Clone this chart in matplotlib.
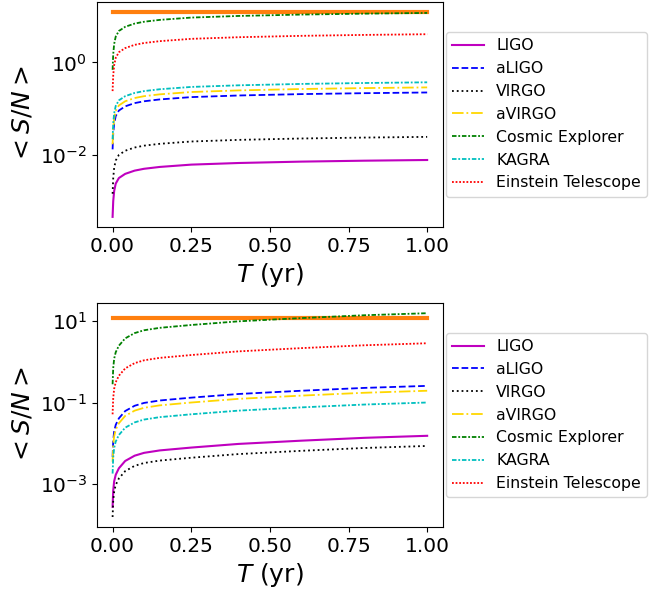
import matplotlib
matplotlib.use("Agg")
import matplotlib.pyplot as plt
import numpy as np

# observation time (yr)
T = [0, 0.002, 0.005, 0.01, 0.02, 0.04, 0.07, 0.1, 0.15, 0.25, 0.4, 0.6, 0.8, 1.0]

detectors = ["LIGO", "aLIGO", "VIRGO", "aVIRGO", "Cosmic Explorer", "KAGRA", "Einstein Telescope"]

# log10 <S/N>
ligo_top = [-3.34, -3.00, -2.78, -2.62, -2.50, -2.41, -2.34, -2.30, -2.26, -2.21, -2.175, -2.145, -2.125, -2.11]
aligo_top = [-1.88, -1.54, -1.32, -1.16, -1.04, -0.95, -0.88, -0.84, -0.80, -0.75, -0.715, -0.685, -0.665, -0.65]
virgo_top = [-2.84, -2.50, -2.28, -2.12, -2.00, -1.91, -1.84, -1.80, -1.76, -1.71, -1.675, -1.645, -1.625, -1.61]
avirgo_top = [-1.77, -1.43, -1.21, -1.05, -0.93, -0.84, -0.77, -0.73, -0.69, -0.64, -0.605, -0.575, -0.555, -0.54]
ce_top = [-0.16, 0.18, 0.40, 0.56, 0.68, 0.77, 0.84, 0.88, 0.92, 0.97, 1.005, 1.035, 1.055, 1.07]
kagra_top = [-1.66, -1.32, -1.10, -0.94, -0.82, -0.73, -0.66, -0.62, -0.58, -0.53, -0.495, -0.465, -0.445, -0.43]
et_top = [-0.62, -0.28, -0.06, 0.10, 0.22, 0.31, 0.38, 0.42, 0.46, 0.51, 0.545, 0.575, 0.595, 0.61]
ref_top = 1.09
yticks_top = [1e-2, 1e0]

# log10 <S/N>
ligo_bot = [-3.57, -3.17, -2.94, -2.78, -2.62, -2.44, -2.31, -2.24, -2.18, -2.11, -2.02, -1.94, -1.87, -1.82]
aligo_bot = [-2.34, -1.94, -1.71, -1.55, -1.39, -1.21, -1.08, -1.01, -0.95, -0.88, -0.79, -0.71, -0.64, -0.59]
virgo_bot = [-3.82, -3.42, -3.19, -3.03, -2.87, -2.69, -2.56, -2.49, -2.43, -2.36, -2.27, -2.19, -2.12, -2.07]
avirgo_bot = [-2.46, -2.06, -1.83, -1.67, -1.51, -1.33, -1.20, -1.13, -1.07, -1.00, -0.91, -0.83, -0.76, -0.71]
ce_bot = [-0.55, -0.15, 0.08, 0.24, 0.40, 0.58, 0.71, 0.78, 0.84, 0.91, 1.00, 1.08, 1.15, 1.20]
kagra_bot = [-2.75, -2.35, -2.12, -1.96, -1.80, -1.62, -1.49, -1.42, -1.36, -1.29, -1.20, -1.12, -1.05, -1.00]
et_bot = [-1.29, -0.89, -0.66, -0.50, -0.34, -0.16, -0.03, 0.04, 0.10, 0.17, 0.26, 0.34, 0.41, 0.46]
ref_bot = 1.07
yticks_bot = [1e-3, 1e-1, 1e1]

xticks = [0, 0.25, 0.5, 0.75, 1.0]

styles = [
    ("m", "-"),
    ("b", "--"),
    ("k", ":"),
    ("gold", "-."),
    ("g", (0, (2.5, 1, 1, 1))),
    ("c", (0, (2.5, 1, 1, 1))),
    ("r", (0, (1, 1))),
]


def draw(ax, series, ref, yticks):
    ax.plot(T, np.full(len(T), 10.0 ** ref), color="C1", lw=3)
    for name, vals, (col, ls) in zip(detectors, series, styles):
        lw = 1.5 if ls == "-" else 1.3
        ax.plot(T, 10.0 ** np.array(vals), color=col, ls=ls, lw=lw, label=name)
    ax.set_yscale("log")
    ax.set_yticks(yticks)
    ax.yaxis.set_minor_locator(matplotlib.ticker.NullLocator())
    ax.set_xticks(xticks)
    ax.tick_params(labelsize=14.5)
    ax.set_xlabel(r"$T$ (yr)", fontsize=18)
    ax.set_ylabel(r"$<S/N>$", fontsize=18)
    ax.legend(loc="center left", bbox_to_anchor=(1, 0.5), fontsize=11.3, borderaxespad=0.2)


fig = plt.figure(figsize=(6.68, 5.93), dpi=100)
ax1 = fig.add_axes([0.145, 0.617, 0.518, 0.38])
ax2 = fig.add_axes([0.145, 0.111, 0.518, 0.378])

draw(ax1, [ligo_top, aligo_top, virgo_top, avirgo_top, ce_top, kagra_top, et_top], ref_top, yticks_top)
draw(ax2, [ligo_bot, aligo_bot, virgo_bot, avirgo_bot, ce_bot, kagra_bot, et_bot], ref_bot, yticks_bot)

fig.savefig("out.png", dpi=100)
